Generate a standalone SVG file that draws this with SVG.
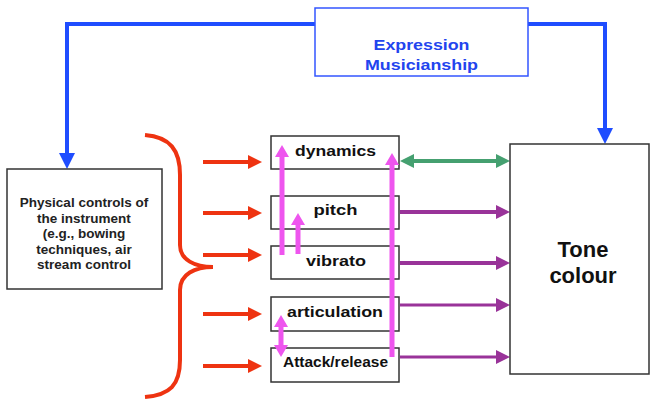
<svg xmlns="http://www.w3.org/2000/svg" width="652" height="402" viewBox="0 0 652 402">
<style>
text{font-family:"Liberation Sans",Arial,sans-serif;font-weight:bold;text-anchor:middle}
.box{fill:#fff;stroke:#333;stroke-width:1.5}
.node{font-size:15px;fill:#111}
.blue{fill:none;stroke:#1f4dff;stroke-width:4}
.red{fill:none;stroke:#ee3311;stroke-width:4}
.green{fill:none;stroke:#45a070;stroke-width:4}
.purple{fill:none;stroke:#993399;stroke-width:4}
.purple2{fill:none;stroke:#993399;stroke-width:3}
.pink{fill:none;stroke:#ee55ee;stroke-width:5}
</style>
<defs>
<marker id="mb" markerUnits="userSpaceOnUse" markerWidth="16" markerHeight="16" refX="0" refY="8" orient="auto-start-reverse" viewBox="0 0 16 16"><path d="M0,0 L16,8 L0,16 z" fill="#1f4dff"/></marker>
<marker id="mr" markerUnits="userSpaceOnUse" markerWidth="14" markerHeight="16" refX="0" refY="8" orient="auto" viewBox="0 0 14 16"><path d="M0,1 L14,8 L0,15 z" fill="#ee3311"/></marker>
<marker id="mg" markerUnits="userSpaceOnUse" markerWidth="14" markerHeight="16" refX="0" refY="8" orient="auto-start-reverse" viewBox="0 0 14 16"><path d="M0,1 L14,8 L0,15 z" fill="#45a070"/></marker>
<marker id="mp" markerUnits="userSpaceOnUse" markerWidth="14" markerHeight="16" refX="0" refY="8" orient="auto" viewBox="0 0 14 16"><path d="M0,1 L14,8 L0,15 z" fill="#993399"/></marker>
<marker id="mk" markerUnits="userSpaceOnUse" markerWidth="12" markerHeight="16" refX="0" refY="8" orient="auto-start-reverse" viewBox="0 0 12 16"><path d="M0,1 L12,8 L0,15 z" fill="#ee55ee"/></marker>
</defs>
<rect width="652" height="402" fill="#fff"/>

<g id="connectors">
<path class="blue" d="M67,153 V24 H605 V128" marker-start="url(#mb)" marker-end="url(#mb)"/>
<path class="red" d="M145,135 C170,137 180,150 180,175 V245 C180,260 195,267 213,267 C195,267 180,274 180,290 V360 C180,385 170,395 145,397"/>
<line class="red" x1="203" y1="162" x2="248" y2="162" marker-end="url(#mr)"/>
<line class="red" x1="203" y1="213" x2="248" y2="213" marker-end="url(#mr)"/>
<line class="red" x1="203" y1="255" x2="248" y2="255" marker-end="url(#mr)"/>
<line class="red" x1="203" y1="314" x2="248" y2="314" marker-end="url(#mr)"/>
<line class="red" x1="203" y1="366" x2="248" y2="366" marker-end="url(#mr)"/>
<line class="green" x1="414" y1="161" x2="496" y2="161" marker-start="url(#mg)" marker-end="url(#mg)"/>
<line class="purple" x1="400" y1="212" x2="496" y2="212" marker-end="url(#mp)"/>
<line class="purple" x1="400" y1="263" x2="496" y2="263" marker-end="url(#mp)"/>
<line class="purple2" x1="400" y1="305" x2="496" y2="305" marker-end="url(#mp)"/>
<line class="purple2" x1="400" y1="357" x2="496" y2="357" marker-end="url(#mp)"/>
</g>

<g id="expression">
<rect x="315" y="8" width="213" height="68" fill="#fff" stroke="#3355ff" stroke-width="1.5"/>
<text x="421.5" y="50" font-size="15" fill="#2244ee" textLength="96" lengthAdjust="spacingAndGlyphs">Expression</text>
<text x="421.5" y="70" font-size="15" fill="#2244ee" textLength="113" lengthAdjust="spacingAndGlyphs">Musicianship</text>
</g>

<g id="physical">
<rect class="box" x="7" y="169" width="155" height="120"/>
<text x="84" y="207" font-size="13.5" fill="#222">Physical controls of</text>
<text x="84" y="223" font-size="13.5" fill="#222">the instrument</text>
<text x="84" y="238" font-size="13.5" fill="#222">(e.g., bowing</text>
<text x="84" y="254" font-size="13.5" fill="#222">techniques, air</text>
<text x="84" y="269" font-size="13.5" fill="#222">stream control</text>
</g>

<g id="dynamics">
<rect class="box" x="271" y="136" width="128" height="33"/>
<text class="node" x="335.5" y="156" textLength="81" lengthAdjust="spacingAndGlyphs">dynamics</text>
</g>
<g id="pitch">
<rect class="box" x="271" y="196" width="128" height="33"/>
<text class="node" x="335.5" y="215" textLength="44" lengthAdjust="spacingAndGlyphs">pitch</text>
</g>
<g id="vibrato">
<rect class="box" x="271" y="246" width="128" height="33"/>
<text class="node" x="336" y="266" textLength="60" lengthAdjust="spacingAndGlyphs">vibrato</text>
</g>
<g id="articulation">
<rect class="box" x="271" y="297" width="128" height="34"/>
<text class="node" x="335" y="317" textLength="96" lengthAdjust="spacingAndGlyphs">articulation</text>
</g>
<g id="attack">
<rect class="box" x="271" y="348" width="128" height="34"/>
<text class="node" x="335.5" y="367" textLength="105" lengthAdjust="spacingAndGlyphs">Attack/release</text>
</g>

<g id="tone">
<rect class="box" x="510" y="144" width="139" height="230"/>
<text x="583" y="257" font-size="22" fill="#111">Tone</text>
<text x="583" y="283" font-size="22" fill="#111">colour</text>
</g>

<g id="pink-connectors">
<line class="pink" x1="282" y1="255" x2="282" y2="157" marker-end="url(#mk)"/>
<line class="pink" x1="298" y1="254" x2="298" y2="225" marker-end="url(#mk)"/>
<line class="pink" x1="392" y1="357" x2="392" y2="165" marker-end="url(#mk)"/>
<line class="pink" x1="281" y1="327" x2="281" y2="345" marker-start="url(#mk)" marker-end="url(#mk)"/>
</g>
</svg>
